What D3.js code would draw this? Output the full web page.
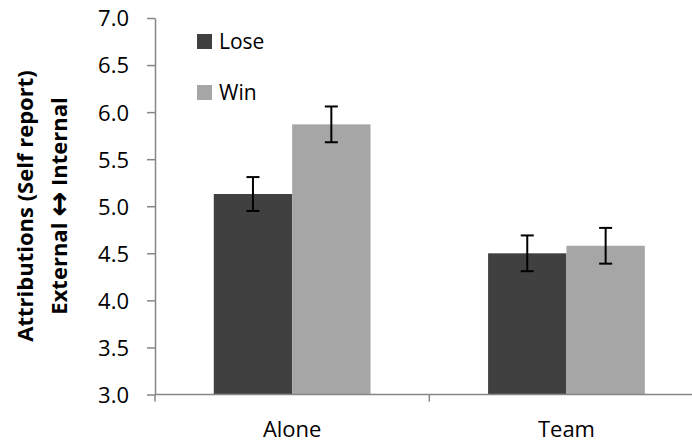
<!DOCTYPE html>
<html>
<head>
<meta charset="utf-8">
<script src="https://cdn.jsdelivr.net/npm/d3@7"></script>
<style>
  html, body { margin: 0; padding: 0; background: #fff; }
  svg { display: block; }
  text { font-family: "Open Sans", "Liberation Sans", sans-serif; }
</style>
</head>
<body>
<svg id="chart" width="692" height="442"></svg>
<script>
// Attribution ratings by condition and outcome
const categories = ["Alone", "Team"];
const seriesNames = ["Lose", "Win"];
const loseValues = [5.13, 4.50];
const winValues = [5.87, 4.58];
const loseErrors = [0.18, 0.19];
const winErrors = [0.19, 0.19];
const yTicks = [3.0, 3.5, 4.0, 4.5, 5.0, 5.5, 6.0, 6.5, 7.0];
const seriesColors = ["#404040", "#a6a6a6"];

const series = [
  { name: seriesNames[0], values: loseValues, errors: loseErrors, color: seriesColors[0] },
  { name: seriesNames[1], values: winValues, errors: winErrors, color: seriesColors[1] }
];

const svg = d3.select("#chart");
const plotLeft = 155, plotTop = 18, plotBottom = 394.5;
const bandWidth = 274.3;
const fontSize = 22;

const y = d3.scaleLinear().domain([3, 7]).range([plotBottom, plotTop]);
const x0 = d3.scaleBand().domain(categories)
  .range([plotLeft, plotLeft + bandWidth * categories.length])
  .paddingInner(0).paddingOuter(0);
// inner band holds the two bars, leaving Excel-style gaps on each side
const x1 = d3.scaleBand().domain(seriesNames)
  .range([0, x0.bandwidth()]).paddingInner(0).paddingOuter(0.75);

const axisColor = "#868686";

// bars
const groups = svg.append("g").selectAll("g")
  .data(categories).join("g")
  .attr("transform", d => `translate(${x0(d)},0)`);

groups.selectAll("rect")
  .data((c, i) => series.map(s => ({ s, v: s.values[i] })))
  .join("rect")
  .attr("x", d => x1(d.s.name))
  .attr("width", x1.bandwidth())
  .attr("y", d => y(d.v))
  .attr("height", d => y(3) - y(d.v))
  .attr("fill", d => d.s.color);

// error bars
groups.selectAll("g.err")
  .data((c, i) => series.map(s => ({ s, v: s.values[i], e: s.errors[i] })))
  .join("g").attr("class", "err")
  .each(function(d) {
    const g = d3.select(this);
    const cx = x1(d.s.name) + x1.bandwidth() / 2;
    const y1 = y(d.v + d.e), y2 = y(d.v - d.e);
    g.append("line").attr("x1", cx).attr("x2", cx).attr("y1", y1).attr("y2", y2)
      .attr("stroke", "#000").attr("stroke-width", 2);
    [y1, y2].forEach(yy => g.append("line")
      .attr("x1", cx - 6.5).attr("x2", cx + 6.5).attr("y1", yy).attr("y2", yy)
      .attr("stroke", "#000").attr("stroke-width", 2));
  });

// y axis
const yAxis = d3.axisLeft(y).tickValues(yTicks).tickFormat(d3.format(".1f"))
  .tickSizeInner(8).tickSizeOuter(0).tickPadding(18);
const gy = svg.append("g").attr("transform", `translate(${plotLeft},0)`).call(yAxis);
gy.select(".domain").attr("stroke", axisColor).attr("stroke-width", 1.5);
gy.selectAll(".tick line").attr("stroke", axisColor).attr("stroke-width", 1.5);
gy.selectAll(".tick text").attr("font-size", fontSize).attr("fill", "#000")
  .attr("dy", "0.36em");

// x axis
const xAxis = d3.axisBottom(x0).tickSize(0);
const gx = svg.append("g").attr("transform", `translate(0,${plotBottom})`).call(xAxis);
gx.select(".domain").remove();
gx.selectAll(".tick text").attr("font-size", fontSize).attr("fill", "#000")
  .attr("dy", null).attr("y", 42);
gx.append("line").attr("x1", plotLeft).attr("x2", 692).attr("y1", 0).attr("y2", 0)
  .attr("stroke", axisColor).attr("stroke-width", 1.5);
// category boundary ticks
gx.selectAll("line.bound")
  .data(categories.map(c => x0(c)).concat([x0(categories[1]) + x0.bandwidth()]))
  .join("line").attr("class", "bound")
  .attr("x1", d => d).attr("x2", d => d).attr("y1", 0).attr("y2", 7)
  .attr("stroke", axisColor).attr("stroke-width", 1.5);

// y axis title
const title = svg.append("text")
  .attr("transform", `translate(0,206) rotate(-90)`)
  .attr("text-anchor", "middle")
  .attr("font-weight", "bold").attr("font-size", 22).attr("fill", "#000");
title.append("tspan").attr("x", 0).attr("y", 33).text("Attributions (Self report)");
const line2 = title.append("tspan").attr("x", 0).attr("y", 66.5);
line2.append("tspan").text("External ");
line2.append("tspan").attr("font-family", "DejaVu Sans").attr("font-size", 30)
  .attr("dy", 2).text("\u2194");
line2.append("tspan").attr("dy", -2).text(" Internal");

// legend
const legend = svg.append("g").selectAll("g")
  .data(series).join("g")
  .attr("transform", (d, i) => `translate(197,${34 + i * 51})`);
legend.append("rect").attr("width", 15).attr("height", 15).attr("fill", d => d.color);
legend.append("text").attr("x", 22).attr("y", 15).attr("font-size", 21)
  .attr("fill", "#000").text(d => d.name);
</script>
</body>
</html>
